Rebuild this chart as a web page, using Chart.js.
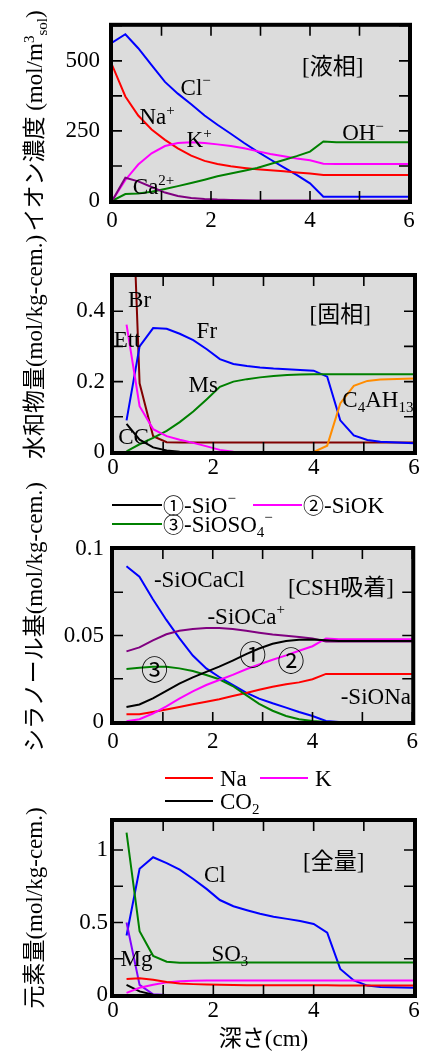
<!DOCTYPE html>
<html>
<head>
<meta charset="utf-8">
<script src="https://cdn.jsdelivr.net/npm/chart.js@4.4.1/dist/chart.umd.min.js"></script>
<style>
  html, body { margin:0; padding:0; background:#fff; }
  #page { position:relative; width:424px; height:1051px; overflow:hidden; }
  #page canvas { position:absolute; left:0; }
  .ytitle { position:absolute; white-space:nowrap; color:#000; line-height:1;
            font:23px "Liberation Serif", "Noto Sans CJK JP", serif;
            transform:translate(-50%,-50%) rotate(-90deg); }
  .ytitle sup, .ytitle sub { font-size:15px; line-height:0; }
  .ytitle sup { vertical-align:0.55em; }
  .ytitle sub { vertical-align:-0.3em; }
</style>
</head>
<body>
<div id="page">
  <canvas id="c1"></canvas>
  <canvas id="c2"></canvas>
  <canvas id="c3"></canvas>
  <canvas id="c4"></canvas>
  <div class="ytitle" style="left:32px;top:121px">イオン濃度 (mol/m<sup>3</sup><sub>sol</sub>)</div>
  <div class="ytitle" style="left:32px;top:347px">水和物量(mol/kg-cem.)</div>
  <div class="ytitle" style="left:32px;top:617px">シラノール基(mol/kg-cem.)</div>
  <div class="ytitle" style="left:32px;top:908px">元素量(mol/kg-cem.)</div>
</div>
<script>
/* ---------- data (depth in cm) ---------- */
const X_NODES = [0.27, 0.53, 0.8, 1.07, 1.33, 1.6, 1.87, 2.13, 2.4, 2.67, 2.93,
                 3.2, 3.47, 3.73, 4.0, 4.27, 4.53, 4.8, 5.07, 5.33, 6];
const X_LIQ   = [0, ...X_NODES];

// [液相] mol/m3
const CL_LIQ = [565, 595, 545, 485, 425, 383, 345, 305, 272, 240, 207, 177, 148, 120, 93, 63, 15, 15, 15, 15, 15, 15];
const NA_LIQ = [486, 373, 305, 255, 218, 188, 162, 143, 132, 124, 118, 113, 110, 106, 102, 98, 93, 93, 93, 93, 93, 93];
const K_LIQ  = [0, 75, 130, 170, 196, 207, 210, 207, 202, 196, 188, 178, 168, 160, 152, 145, 133, 132, 132, 132, 132, 132];
const OH_LIQ = [0, 25, 27, 33, 43, 53, 64, 76, 88, 98, 108, 118, 132, 146, 160, 176, 212, 210, 210, 210, 210, 210];
const CA_LIQ = [0, 83, 70, 50, 30, 18, 11, 7, 5, 4, 3, 2, 2, 2, 2, 2, 2, 2, 2, 2, 2, 2];

// [固相] mol/kg-cem.
const FR     = [0.09, 0.30, 0.352, 0.35, 0.336, 0.318, 0.292, 0.264, 0.25, 0.244, 0.24, 0.237, 0.235, 0.233, 0.231, 0.214, 0.09, 0.047, 0.034, 0.029, 0.025];
const MS     = [0.002, 0.022, 0.04, 0.06, 0.085, 0.115, 0.15, 0.185, 0.2, 0.207, 0.212, 0.216, 0.219, 0.22, 0.221, 0.221, 0.221, 0.221, 0.221, 0.221, 0.221];
const ETT    = [0.362, 0.13, 0.065, 0.045, 0.035, 0.026, 0.016, 0.006, 0.001, 0, 0, 0, 0, 0, 0, 0, 0, 0, 0, 0, 0];
const BR     = [1.2, 0.195, 0.045, 0.028, 0.027, 0.027, 0.027, 0.027, 0.027, 0.027, 0.027, 0.027, 0.027, 0.027, 0.027, 0.027, 0.027, 0.027, 0.027, 0.027, 0.027];
const CC     = [0.08, 0.035, 0.013, 0.004, 0.001, 0, 0, 0, 0, 0, 0, 0, 0, 0, 0, 0, 0, 0, 0, 0, 0];
const C4AH13 = [0, 0, 0, 0, 0, 0, 0, 0, 0, 0, 0, 0, 0, 0, 0, 0.018, 0.138, 0.188, 0.202, 0.206, 0.209];

// [CSH吸着] mol/kg-cem.
const SIO     = [0.0087, 0.0101, 0.0136, 0.018, 0.0222, 0.0258, 0.029, 0.032, 0.0355, 0.0392, 0.0425, 0.0452, 0.0468, 0.0475, 0.0477, 0.0472, 0.0468, 0.0468, 0.0468, 0.0468, 0.0468];
const SIOK    = [0.0004, 0.0016, 0.0049, 0.0091, 0.0135, 0.0177, 0.0214, 0.0243, 0.0272, 0.0305, 0.0332, 0.036, 0.0385, 0.0412, 0.0438, 0.0483, 0.0478, 0.0478, 0.0478, 0.0478, 0.0478];
const SIOSO4  = [0.0307, 0.0313, 0.032, 0.032, 0.031, 0.0295, 0.0272, 0.0247, 0.0208, 0.0155, 0.0105, 0.0065, 0.0035, 0.0016, 0.0006, 0, 0, 0, 0, 0, 0];
const SIOCACL = [0.090, 0.084, 0.071, 0.059, 0.0485, 0.0384, 0.031, 0.026, 0.0214, 0.017, 0.0135, 0.0108, 0.0083, 0.0058, 0.0035, 0.0006, 0, 0, 0, 0, 0];
const SIOCA   = [0.0408, 0.0431, 0.0472, 0.0507, 0.0527, 0.0538, 0.0543, 0.0544, 0.0537, 0.0527, 0.0516, 0.0506, 0.0498, 0.0491, 0.0483, 0.0465, 0.0465, 0.0465, 0.0465, 0.0465, 0.0465];
const SIONA   = [0.0045, 0.0045, 0.0058, 0.0072, 0.0087, 0.0102, 0.0117, 0.0132, 0.015, 0.0168, 0.0186, 0.0204, 0.0218, 0.0229, 0.0247, 0.0278, 0.0277, 0.0277, 0.0277, 0.0277, 0.0277];

// [全量] mol/kg-cem.
const NA_TOT = [0.11, 0.115, 0.105, 0.09, 0.08, 0.075, 0.072, 0.07, 0.069, 0.068, 0.068, 0.068, 0.068, 0.068, 0.068, 0.067, 0.066, 0.065, 0.065, 0.065, 0.065];
const K_TOT  = [0.015, 0.05, 0.07, 0.087, 0.095, 0.099, 0.1, 0.1, 0.1, 0.1, 0.1, 0.1, 0.1, 0.1, 0.1, 0.1, 0.1, 0.1, 0.1, 0.1, 0.1];
const CO2    = [0.07, 0.025, 0.002, 0, 0, 0, 0, 0, 0, 0, 0, 0, 0, 0, 0, 0, 0, 0, 0, 0, 0];
const CL_TOT = [0.41, 0.87, 0.95, 0.91, 0.865, 0.8, 0.73, 0.655, 0.612, 0.585, 0.56, 0.54, 0.525, 0.51, 0.49, 0.43, 0.18, 0.1, 0.065, 0.055, 0.05];
const SO3    = [1.12, 0.44, 0.27, 0.23, 0.222, 0.222, 0.223, 0.224, 0.224, 0.224, 0.224, 0.224, 0.224, 0.224, 0.224, 0.224, 0.224, 0.224, 0.224, 0.224, 0.224];
const MG     = [0.5, 0.07, 0.005, 0, 0, 0, 0, 0, 0, 0, 0, 0, 0, 0, 0, 0, 0, 0, 0, 0, 0];

/* ---------- look ---------- */
const FAMILY = '"Liberation Serif", "Noto Sans CJK JP", serif';
const FS     = 23;
const BG     = '#dcdcdc';
const TICK   = 10;
const COL = { blue:'#0000ff', red:'#ff0000', mag:'#ff00ff', green:'#008000',
              purple:'#800080', brown:'#800000', orange:'#ff8c00', violet:'#8000ff', black:'#000000' };
// font size per text part kind: plain, super/subscript, circled number (plot / legend)
const PART_SIZE = { sup: 15, sub: 15, big: 27, mid: 21 };

// text with super/subscripts: parts = [[text, kind], ...]
function drawRich(ctx, parts, px, py, align) {
  const fnt = k => `${PART_SIZE[k] || FS}px ${FAMILY}`;
  let w = 0;
  parts.forEach(([t, k]) => { ctx.font = fnt(k); w += ctx.measureText(t).width; });
  let x = align === 'left' ? px : px - w / 2;
  const base = py + FS * 0.33;
  ctx.textAlign = 'left';
  ctx.textBaseline = 'alphabetic';
  parts.forEach(([t, k]) => {
    ctx.font = fnt(k);
    const dy = k === 'sup' ? -FS * 0.42 : k === 'sub' ? FS * 0.22 : k === 'big' ? 2 : 0;
    ctx.fillText(t, x, base + dy);
    x += ctx.measureText(t).width;
  });
}

// grey plot box, inward ticks on four sides, thick frame, inline labels, line legend
function makeDeco(top, notes, legend) {
  return {
    id: 'deco',
    beforeDatasetsDraw(chart) {
      const { ctx, chartArea: a } = chart;
      ctx.save();
      ctx.fillStyle = BG;
      ctx.fillRect(a.left, a.top, a.right - a.left, a.bottom - a.top);
      ctx.restore();
    },
    afterDatasetsDraw(chart) {
      const { ctx, chartArea: a, scales: { x, y } } = chart;
      ctx.save();
      ctx.fillStyle = '#000';
      notes.forEach(n => drawRich(ctx, n.t, x.getPixelForValue(n.x), y.getPixelForValue(n.y), 'center'));

      ctx.strokeStyle = '#000';
      ctx.lineWidth = 1.6;
      ctx.beginPath();
      x.ticks.forEach(t => {
        const p = x.getPixelForValue(t.value);
        ctx.moveTo(p, a.bottom); ctx.lineTo(p, a.bottom - TICK);
        ctx.moveTo(p, a.top);    ctx.lineTo(p, a.top + TICK);
      });
      y.ticks.forEach(t => {
        const p = y.getPixelForValue(t.value);
        ctx.moveTo(a.left, p);  ctx.lineTo(a.left + TICK, p);
        ctx.moveTo(a.right, p); ctx.lineTo(a.right - TICK, p);
      });
      ctx.stroke();
      ctx.lineWidth = 4;
      ctx.strokeRect(a.left - 1, a.top - 1, a.right - a.left + 2, a.bottom - a.top + 2);

      legend.forEach(l => {
        const ds = chart.data.datasets[l.ds];
        const yy = l.y - top;
        ctx.strokeStyle = ds.borderColor;
        ctx.lineWidth = 2;
        ctx.beginPath(); ctx.moveTo(l.x0, yy); ctx.lineTo(l.x1, yy); ctx.stroke();
        ctx.fillStyle = '#000';
        drawRich(ctx, l.t, l.tx, yy, 'left');
      });
      ctx.restore();
    }
  };
}

const series = (label, xs, ys, color) => ({
  label, borderColor: color, borderWidth: 2, pointRadius: 0, fill: false, tension: 0,
  data: xs.map((x, i) => ({ x, y: ys[i] })),
});

const every = step => v => Math.abs(v / step - Math.round(v / step)) < 1e-6 ? String(+v.toFixed(3)) : '';

function panel(id, p) {
  const cv = document.getElementById(id);
  cv.width = 424; cv.height = p.h;
  cv.style.width = '424px'; cv.style.height = p.h + 'px'; cv.style.top = p.top + 'px';
  const a = p.area;
  const tickFont = { family: FAMILY, size: FS };
  return new Chart(cv, {
    type: 'line',
    data: { datasets: p.datasets },
    options: {
      responsive: false, animation: false, events: [],
      layout: { padding: { left: 0, right: 424 - a.r, top: a.t - p.top, bottom: 0 } },
      plugins: { legend: { display: false }, tooltip: { enabled: false } },
      scales: {
        x: {
          type: 'linear', min: 0, max: 6,
          grid: { display: false, drawTicks: false }, border: { display: false },
          ticks: { stepSize: 1, autoSkip: false, maxRotation: 0, color: '#000', font: tickFont,
                   padding: p.xPad, callback: every(2) },
          title: p.xTitle ? { display: true, text: p.xTitle, color: '#000',
                              font: { family: FAMILY, size: FS, lineHeight: 1 }, padding: 0 } : { display: false },
          afterFit: s => { s.height = p.top + p.h - a.b; },
        },
        y: {
          type: 'linear', min: 0, max: p.yMax,
          grid: { display: false, drawTicks: false }, border: { display: false },
          ticks: { stepSize: p.yStep, autoSkip: false, color: '#000', font: tickFont,
                   padding: p.yPad, callback: every(p.yLabelStep) },
          afterFit: s => { s.width = a.l; },
        },
      },
    },
    plugins: [makeDeco(p.top, p.notes, p.legend || [])],
  });
}

/* ---------- [液相] ---------- */
panel('c1', {
  top: 0, h: 240, area: { l: 112, r: 409, t: 25, b: 201 },
  yMax: 625, yStep: 125, yLabelStep: 250, xPad: 6, yPad: 12,
  datasets: [
    series('Ca2+', X_LIQ, CA_LIQ, COL.purple),
    series('OH-',  X_LIQ, OH_LIQ, COL.green),
    series('K+',   X_LIQ, K_LIQ,  COL.mag),
    series('Na+',  X_LIQ, NA_LIQ, COL.red),
    series('Cl-',  X_LIQ, CL_LIQ, COL.blue),
  ],
  notes: [
    { x: 1.69, y: 406, t: [['Cl'], ['−', 'sup']] },
    { x: 0.91, y: 301, t: [['Na'], ['+', 'sup']] },
    { x: 1.76, y: 218, t: [['K'], ['+', 'sup']] },
    { x: 5.07, y: 244, t: [['OH'], ['−', 'sup']] },
    { x: 0.84, y: 51,  t: [['Ca'], ['2+', 'sup']] },
    { x: 4.46, y: 480, t: [['[液相]']] },
  ],
});

/* ---------- [固相] ---------- */
panel('c2', {
  top: 250, h: 235, area: { l: 113, r: 414, t: 276, b: 452 },
  yMax: 0.5, yStep: 0.1, yLabelStep: 0.2, xPad: 2, yPad: 8,
  datasets: [
    series('C4AH13', X_NODES, C4AH13, COL.orange),
    series('Ett',    X_NODES, ETT,    COL.mag),
    series('CC',     X_NODES, CC,     COL.black),
    series('Ms',     X_NODES, MS,     COL.green),
    series('Fr',     X_NODES, FR,     COL.blue),
    series('Br',     X_NODES, BR,     COL.brown),
  ],
  notes: [
    { x: 0.53, y: 0.433, t: [['Br']] },
    { x: 0.28, y: 0.32,  t: [['Ett']] },
    { x: 1.87, y: 0.346, t: [['Fr']] },
    { x: 1.8,  y: 0.193, t: [['Ms']] },
    { x: 0.41, y: 0.043, t: [['CC']] },
    { x: 5.28, y: 0.15,  t: [['C'], ['4', 'sub'], ['AH'], ['13', 'sub']] },
    { x: 4.53, y: 0.39,  t: [['[固相]']] },
  ],
});

/* ---------- [CSH吸着] ---------- */
panel('c3', {
  top: 488, h: 262, area: { l: 113, r: 414, t: 549, b: 722 },
  yMax: 0.1, yStep: 0.025, yLabelStep: 0.05, xPad: 6, yPad: 9,
  datasets: [
    series('-SiO-',     X_NODES, SIO,     COL.black),
    series('-SiOK',     X_NODES, SIOK,    COL.mag),
    series('-SiOSO4-',  X_NODES, SIOSO4,  COL.green),
    series('-SiONa',    X_NODES, SIONA,   COL.red),
    series('-SiOCa+',   X_NODES, SIOCA,   COL.purple),
    series('-SiOCaCl',  X_NODES, SIOCACL, COL.blue),
  ],
  notes: [
    { x: 1.73, y: 0.0825, t: [['-SiOCaCl']] },
    { x: 4.57, y: 0.0777, t: [['[CSH吸着]']] },
    { x: 2.67, y: 0.0612, t: [['-SiOCa'], ['+', 'sup']] },
    { x: 2.8,  y: 0.0383, t: [['①', 'big']] },
    { x: 3.57, y: 0.035,  t: [['②', 'big']] },
    { x: 0.83, y: 0.0301, t: [['③', 'big']] },
    { x: 5.27, y: 0.0146, t: [['-SiONa']] },
  ],
  legend: [
    { ds: 0, x0: 112, x1: 162, tx: 163, y: 505, t: [['①', 'mid'], ['-SiO'], ['−', 'sup']] },
    { ds: 1, x0: 253, x1: 302, tx: 303, y: 505, t: [['②', 'mid'], ['-SiOK']] },
    { ds: 2, x0: 112, x1: 162, tx: 163, y: 524, t: [['③', 'mid'], ['-SiOSO'], ['4', 'sub'], ['−', 'sup']] },
  ],
});

/* ---------- [全量] ---------- */
panel('c4', {
  top: 755, h: 296, area: { l: 113, r: 414, t: 821, b: 995 },
  yMax: 1.2, yStep: 0.25, yLabelStep: 0.5, xPad: 2, yPad: 5,
  xTitle: '深さ(cm)',
  datasets: [
    series('Na',  X_NODES, NA_TOT, COL.red),
    series('K',   X_NODES, K_TOT,  COL.mag),
    series('CO2', X_NODES, CO2,    COL.black),
    series('Mg',  X_NODES, MG,     COL.violet),
    series('SO3', X_NODES, SO3,    COL.green),
    series('Cl',  X_NODES, CL_TOT, COL.blue),
  ],
  notes: [
    { x: 2.03, y: 0.83, t: [['Cl']] },
    { x: 2.33, y: 0.29, t: [['SO'], ['3', 'sub']] },
    { x: 0.47, y: 0.25, t: [['Mg']] },
    { x: 4.4,  y: 0.92, t: [['[全量]']] },
  ],
  legend: [
    { ds: 0, x0: 165, x1: 213, tx: 220, y: 778, t: [['Na']] },
    { ds: 1, x0: 260, x1: 308, tx: 315, y: 778, t: [['K']] },
    { ds: 2, x0: 165, x1: 213, tx: 220, y: 801, t: [['CO'], ['2', 'sub']] },
  ],
});
</script>
</body>
</html>
